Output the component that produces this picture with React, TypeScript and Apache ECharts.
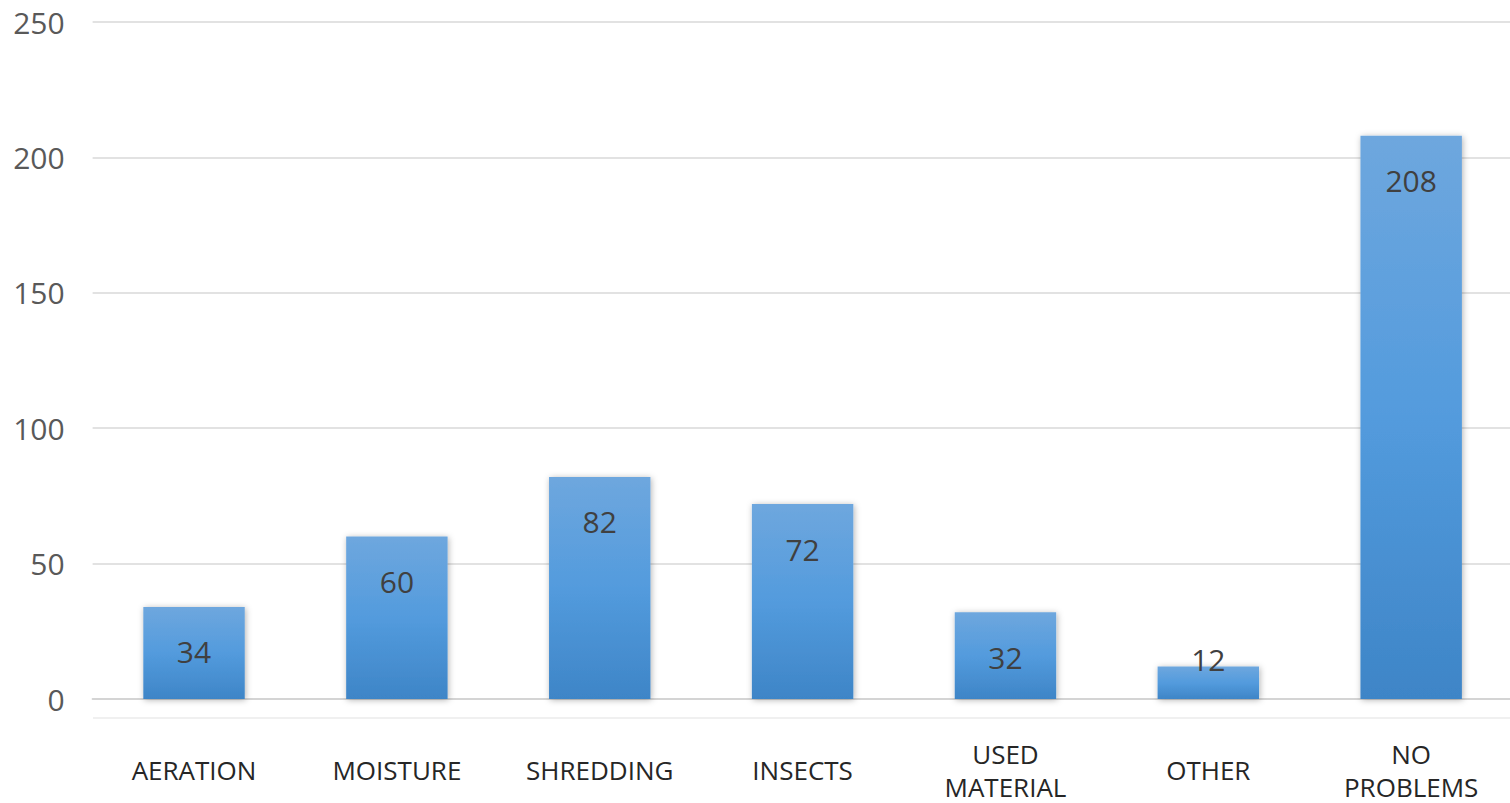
import React, { useEffect, useRef } from "react";
import * as echarts from "echarts";

const categories = ["AERATION", "MOISTURE", "SHREDDING", "INSECTS", "USED\nMATERIAL", "OTHER", "NO\nPROBLEMS"];
const values = [34, 60, 82, 72, 32, 12, 208];
const yTicks = { min: 0, max: 250, interval: 50 };

export default function App() {
  const ref = useRef<HTMLDivElement>(null);
  useEffect(() => {
    document.body.style.margin = "0";
    if (!ref.current) return;
    const chart = echarts.init(ref.current, null, { renderer: "svg" });
    const barColor = new echarts.graphic.LinearGradient(0, 0, 0, 1, [
      { offset: 0, color: "#6ea7de" },
      { offset: 0.5, color: "#539bdd" },
      { offset: 1, color: "#3e85c7" },
    ]);
    chart.setOption({
      animation: false,
      backgroundColor: "#ffffff",
      grid: {
        left: 92.6,
        top: 22,
        width: 1420,
        bottom: 104,
        containLabel: false,
        outerBoundsMode: "none",
      },
      xAxis: {
        type: "category",
        data: categories,
        axisLine: { show: true, lineStyle: { color: "#d4d4d4", width: 2 } },
        axisTick: { show: false },
        axisLabel: {
          color: "#262626",
          fontFamily: "Open Sans",
          fontSize: 26,
          lineHeight: 33,
          verticalAlign: "middle",
          margin: 71,
          interval: 0,
        },
      },
      yAxis: {
        type: "value",
        min: yTicks.min,
        max: yTicks.max,
        interval: yTicks.interval,
        axisLine: { show: false },
        axisTick: { show: false },
        splitLine: { lineStyle: { color: "#d9d9d9", width: 1.5 } },
        axisLabel: {
          color: "#595959",
          fontFamily: "Open Sans",
          fontSize: 30,
          margin: 28,
        },
      },
      graphic: [
        {
          type: "line",
          shape: { x1: 93, y1: 718, x2: 1510, y2: 718 },
          style: { stroke: "#f0f0f0", lineWidth: 2 },
        },
      ],
      series: [
        {
          type: "bar",
          barWidth: "50%",
          data: values.map((v) =>
            v < 20
              ? { value: v, label: { position: "insideBottom", distance: 25 } }
              : v
          ),
          itemStyle: {
            color: barColor,
            shadowBlur: 6,
            shadowColor: "rgba(0,0,0,0.3)",
            shadowOffsetX: 1,
            shadowOffsetY: 1,
          },
          label: {
            show: true,
            position: "insideTop",
            distance: 30,
            color: "#404040",
            fontFamily: "Open Sans",
            fontSize: 30,
          },
        },
      ],
    });
    return () => chart.dispose();
  }, []);
  return <div ref={ref} style={{ width: 1510, height: 803 }} />;
}
